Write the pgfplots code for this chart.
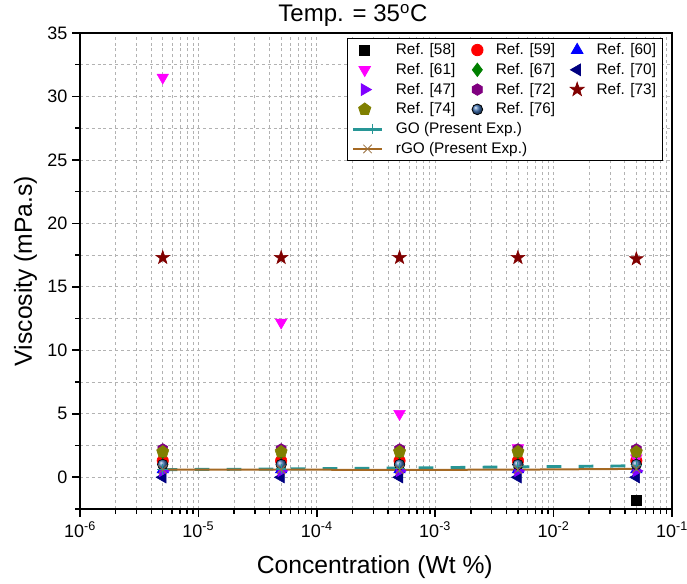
\documentclass[border=0pt]{standalone}
\usepackage{pgfplots}
\pgfplotsset{compat=1.18}
\usepackage{fontspec}
\setmainfont{Liberation Sans}
\usetikzlibrary{plotmarks}
\definecolor{c58}{RGB}{0,0,0}
\definecolor{c59}{RGB}{255,0,0}
\definecolor{c60}{RGB}{0,0,255}
\definecolor{c61}{RGB}{255,0,255}
\definecolor{c67}{RGB}{0,128,0}
\definecolor{c70}{RGB}{0,0,128}
\definecolor{c47}{RGB}{128,0,255}
\definecolor{c72}{RGB}{128,0,128}
\definecolor{c73}{RGB}{128,0,0}
\definecolor{c74}{RGB}{128,128,0}
\definecolor{c76}{RGB}{60,110,175}
\definecolor{cgo}{RGB}{40,150,150}
\definecolor{crgo}{RGB}{165,105,35}
\pgfplotsset{
  golegend/.style={legend image code/.code={\draw[mark repeat=2,mark phase=2,##1,solid] plot coordinates {(0cm,0cm)(0.5cm,0cm)(0.75cm,0cm)};}},
  rgolegend/.style={legend image code/.code={\draw[mark repeat=2,mark phase=2,##1] plot coordinates {(0cm,0cm)(0.375cm,0cm)(0.75cm,0cm)};}},
}
\pgfdeclareplotmark{fstar}{%
  \pgfpathmoveto{\pgfpointpolar{90}{1.25\pgfplotmarksize}}%
  \pgfpathlineto{\pgfpointpolar{126}{0.5\pgfplotmarksize}}%
  \pgfpathlineto{\pgfpointpolar{162}{1.25\pgfplotmarksize}}%
  \pgfpathlineto{\pgfpointpolar{198}{0.5\pgfplotmarksize}}%
  \pgfpathlineto{\pgfpointpolar{234}{1.25\pgfplotmarksize}}%
  \pgfpathlineto{\pgfpointpolar{270}{0.5\pgfplotmarksize}}%
  \pgfpathlineto{\pgfpointpolar{306}{1.25\pgfplotmarksize}}%
  \pgfpathlineto{\pgfpointpolar{342}{0.5\pgfplotmarksize}}%
  \pgfpathlineto{\pgfpointpolar{18}{1.25\pgfplotmarksize}}%
  \pgfpathlineto{\pgfpointpolar{54}{0.5\pgfplotmarksize}}%
  \pgfpathclose\pgfusepathqfillstroke}
\pgfdeclareplotmark{hexa}{%
  \pgfpathmoveto{\pgfpointpolar{90}{\pgfplotmarksize}}%
  \pgfpathlineto{\pgfpointpolar{150}{\pgfplotmarksize}}%
  \pgfpathlineto{\pgfpointpolar{210}{\pgfplotmarksize}}%
  \pgfpathlineto{\pgfpointpolar{270}{\pgfplotmarksize}}%
  \pgfpathlineto{\pgfpointpolar{330}{\pgfplotmarksize}}%
  \pgfpathlineto{\pgfpointpolar{30}{\pgfplotmarksize}}%
  \pgfpathclose\pgfusepathqfillstroke}
\begin{document}
\begin{tikzpicture}
\useasboundingbox (-60pt,-56.25pt) rectangle (455.25pt,381.75pt);
\begin{axis}[
  name=ax,
  at={(0,0)}, anchor=south west,
  scale only axis,
  width=444pt, height=357pt,
  xmode=log, log basis x=10,
  xmin=1e-6, xmax=1e-1,
  ymin=-2.5, ymax=35,
  xtick={1e-6,1e-5,1e-4,1e-3,1e-2,1e-1},
  xticklabels={10\textsuperscript{-6},10\textsuperscript{-5},10\textsuperscript{-4},10\textsuperscript{-3},10\textsuperscript{-2},10\textsuperscript{-1}},
  minor xtick={2e-6,3e-6,4e-6,5e-6,6e-6,7e-6,8e-6,9e-6,
               2e-5,3e-5,4e-5,5e-5,6e-5,7e-5,8e-5,9e-5,
               2e-4,3e-4,4e-4,5e-4,6e-4,7e-4,8e-4,9e-4,
               2e-3,3e-3,4e-3,5e-3,6e-3,7e-3,8e-3,9e-3,
               2e-2,3e-2,4e-2,5e-2,6e-2,7e-2,8e-2,9e-2},
  ytick={0,5,...,35},
  minor ytick={-2.5,2.5,7.5,12.5,17.5,22.5,27.5,32.5},
  /pgf/number format/assume math mode=true,
  tick pos=left, tick align=outside,
  axis line style={line width=1.5pt},
  major tick style={line width=1.3pt, black},
  minor tick style={line width=1.1pt, black},
  major tick length=6pt, minor tick length=3.5pt,
  xmajorgrids, ymajorgrids, xminorgrids, yminorgrids,
  major grid style={black!30, line width=0.6pt, dash pattern=on 2.2pt off 2.2pt},
  minor grid style={black!30, line width=0.6pt, dash pattern=on 2.2pt off 2.2pt},
  tick label style={font=\fontsize{13.5}{16}\selectfont},
  xlabel={Concentration (Wt \%)},
  ylabel={Viscosity (mPa.s)},
  label style={font=\fontsize{18.5}{21}\selectfont},
  xlabel style={at={(axis description cs:0.498,-0.122)}, anchor=center},
  ylabel style={at={(axis description cs:-0.092,0.5)}, anchor=center},
  title={Temp. = 35\textsuperscript{o}C},
  title style={font=\fontsize{18}{21}\selectfont, at={(axis description cs:0.461,1.02)}, anchor=center},
  legend columns=3,
  legend cell align=left,
  legend style={at={(0.985,0.99)}, anchor=north east, draw=black, line width=0.6pt,
    font=\fontsize{11.5}{13.5}\selectfont, fill=white, row sep=1pt,
    /tikz/every odd column/.append style={column sep=7.5pt},
    /tikz/every even column/.append style={column sep=6pt}},
  mark size=4.3pt,
]
\addplot[only marks, color=c58, mark=square*, mark size=3.8pt] coordinates {(5e-2,-1.8)};
\addlegendentry{Ref. [58]}
\addplot[only marks, color=c59, mark=*] coordinates {(5e-6,1.3)(5e-5,1.3)(5e-4,1.3)(5e-3,1.3)(5e-2,1.3)};
\addlegendentry{Ref. [59]}
\addplot[only marks, color=c60, mark=triangle*, mark size=5pt] coordinates {(5e-6,0.6)(5e-5,0.6)(5e-4,0.6)(5e-3,0.6)(5e-2,0.6)};
\addlegendentry{Ref. [60]}
\addplot[only marks, color=c61, mark=triangle*, mark size=5pt, mark options={rotate=180}] coordinates {(5e-6,31.5)(5e-5,12.2)(5e-4,5.0)(5e-3,2.3)(5e-2,1.5)};
\addlegendentry{Ref. [61]}
\addplot[only marks, color=c67, mark=diamond*, mark size=5pt] coordinates {(5e-6,2.0)(5e-5,2.0)(5e-4,2.0)(5e-3,2.0)(5e-2,2.0)};
\addlegendentry{Ref. [67]}
\addplot[only marks, color=c70, mark=triangle*, mark size=5pt, mark options={rotate=90}] coordinates {(5e-6,0.0)(5e-5,0.0)(5e-4,0.0)(5e-3,0.0)(5e-2,0.0)};
\addlegendentry{Ref. [70]}
\addplot[only marks, color=c47, mark=triangle*, mark size=5pt, mark options={rotate=-90}] coordinates {(5e-6,0.5)(5e-5,0.5)(5e-4,0.5)(5e-3,0.5)(5e-2,0.5)};
\addlegendentry{Ref. [47]}
\addplot[only marks, color=c72, mark=hexa] coordinates {(5e-6,2.2)(5e-5,2.2)(5e-4,2.2)(5e-3,2.2)(5e-2,2.2)};
\addlegendentry{Ref. [72]}
\addplot[only marks, color=c73, mark=fstar] coordinates {(5e-6,17.3)(5e-5,17.3)(5e-4,17.3)(5e-3,17.3)(5e-2,17.2)};
\addlegendentry{Ref. [73]}
\addplot[only marks, color=c74, mark=pentagon*, mark size=4.8pt] coordinates {(5e-6,2.0)(5e-5,2.0)(5e-4,2.0)(5e-3,2.0)(5e-2,2.0)};
\addlegendentry{Ref. [74]}
\addplot[only marks, mark=ball, mark size=4pt, mark options={ball color=c76, draw=none}] coordinates {(5e-6,1.0)(5e-5,1.0)(5e-4,1.0)(5e-3,1.0)(5e-2,1.0)};
\addlegendentry{Ref. [76]}
\addlegendimage{empty legend}
\addlegendentry{}
\addplot[color=cgo, line width=2.2pt, dash pattern=on 11pt off 13pt, mark=+, mark size=4pt, mark options={solid, line width=0.8pt}, golegend] coordinates {(5e-6,0.6)(5e-5,0.65)(5e-4,0.72)(5e-3,0.82)(5e-2,0.9)};
\addlegendentry{\rlap{GO (Present Exp.)}}
\addlegendimage{empty legend}
\addlegendentry{}
\addlegendimage{empty legend}
\addlegendentry{}
\addplot[color=crgo, line width=1.5pt, mark=x, mark size=4.5pt, mark options={line width=0.6pt, color=crgo!70!gray}, rgolegend] coordinates {(5e-6,0.6)(5e-5,0.6)(5e-4,0.58)(5e-3,0.6)(5e-2,0.66)};
\addlegendentry{\rlap{rGO (Present Exp.)}}
\addlegendimage{empty legend}
\addlegendentry{}
\addlegendimage{empty legend}
\addlegendentry{}
\end{axis}
\end{tikzpicture}
\end{document}
